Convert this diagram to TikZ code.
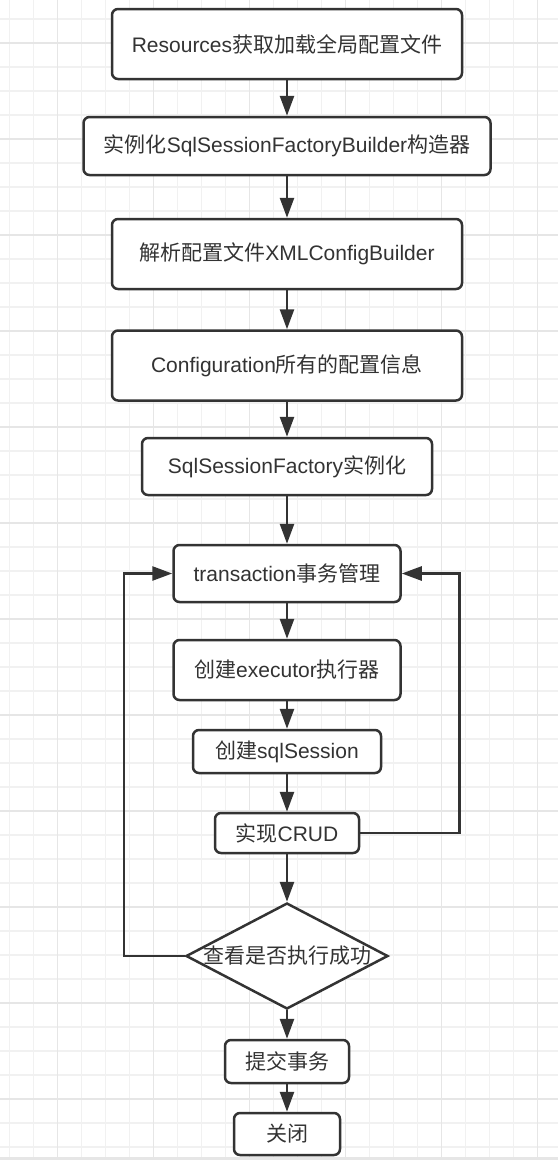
\documentclass[tikz,border=0pt]{standalone}
\usepackage{fontspec}
\setmainfont{Noto Sans CJK SC}
\newfontfamily\latfont{Liberation Sans}
\newcommand\LF[1]{{\latfont #1}}
\usetikzlibrary{arrows.meta,shapes.geometric}
\definecolor{ink}{HTML}{333333}
\definecolor{gminor}{HTML}{F1F1F1}
\definecolor{gmajor}{HTML}{E6E6E6}
\begin{document}
\begin{tikzpicture}[x=1pt,y=-1pt,
  box/.style={draw=ink, line width=2.5pt, rounded corners=6pt, fill=white, text=ink,
    font=\fontsize{21pt}{25pt}\selectfont, inner sep=0pt},
  dec/.style={draw=ink, line width=2.5pt, shape=diamond, fill=white, text=ink,
    font=\fontsize{21pt}{25pt}\selectfont, inner sep=0pt},
  arr/.style={draw=ink, line width=2.6pt, -{Triangle[length=20pt,width=14pt]}},
  gmin/.style={draw=gminor, line width=1.3pt},
  gmaj/.style={draw=gmajor, line width=1.6pt}]
\useasboundingbox (0,0) rectangle (558,1160);
\fill[white] (0,0) rectangle (558,1160);
\foreach \x in {9.5,33.5,...,557} \draw[gmin] (\x,0) -- (\x,1160);
\foreach \y in {19,43,...,1160} \draw[gmin] (0,\y) -- (558,\y);
\foreach \x in {57.5,153.5,...,557} \draw[gmaj] (\x,0) -- (\x,1160);
\foreach \y in {43,139,...,1160} \draw[gmaj] (0,\y) -- (558,\y);
\fill[gmajor] (0,1157) rectangle (558,1160);

\node[box, minimum width=350, minimum height=70] (n1) at (287,44) {\LF{Resources}获取加载全局配置文件};
\node[box, minimum width=407, minimum height=58] (n2) at (287,146) {实例化\LF{SqlSessionFactoryBuilder}构造器};
\node[box, minimum width=350, minimum height=70] (n3) at (287,254) {解析配置文件\LF{XMLConfigBuilder}};
\node[box, minimum width=350, minimum height=70] (n4) at (287,365.5) {\LF{Configuration}所有的配置信息};
\node[box, minimum width=290, minimum height=57] (n5) at (287,466.5) {\LF{SqlSessionFactory}实例化};
\node[box, minimum width=227, minimum height=57] (n6) at (287,573.5) {\LF{transaction}事务管理};
\node[box, minimum width=227, minimum height=60] (n7) at (287,670) {创建\LF{executor}执行器};
\node[box, minimum width=188, minimum height=43] (n8) at (287,751.5) {创建\LF{sqlSession}};
\node[box, minimum width=144, minimum height=40] (n9) at (287,833) {实现\LF{CRUD}};
\node[dec, minimum width=202, minimum height=106] (dg) at (287,956) {\makebox[0pt]{查看是否执行成功}};
\node[box, minimum width=124, minimum height=43] (n10) at (287,1061.5) {提交事务};
\node[box, minimum width=106, minimum height=42] (n11) at (287,1134) {关闭};

\coordinate (lx) at (124,0);
\coordinate (rx) at (459.5,0);

\draw[arr] (n1.south) -- (n2.north);
\draw[arr] (n2.south) -- (n3.north);
\draw[arr] (n3.south) -- (n4.north);
\draw[arr] (n4.south) -- (n5.north);
\draw[arr] (n5.south) -- (n6.north);
\draw[arr] (n6.south) -- (n7.north);
\draw[arr] (n7.south) -- (n8.north);
\draw[arr] (n8.south) -- (n9.north);
\draw[arr] (n9.south) -- (dg.north);
\draw[arr] (dg.south) -- (n10.north);
\draw[arr] (n10.south) -- (n11.north);
\draw[arr] (dg.west) -- (dg.west -| lx) -- (n6.west -| lx) -- (n6.west);
\draw[arr] (n9.east) -- (n9.east -| rx) -- (n6.east -| rx) -- (n6.east);
\end{tikzpicture}
\end{document}
